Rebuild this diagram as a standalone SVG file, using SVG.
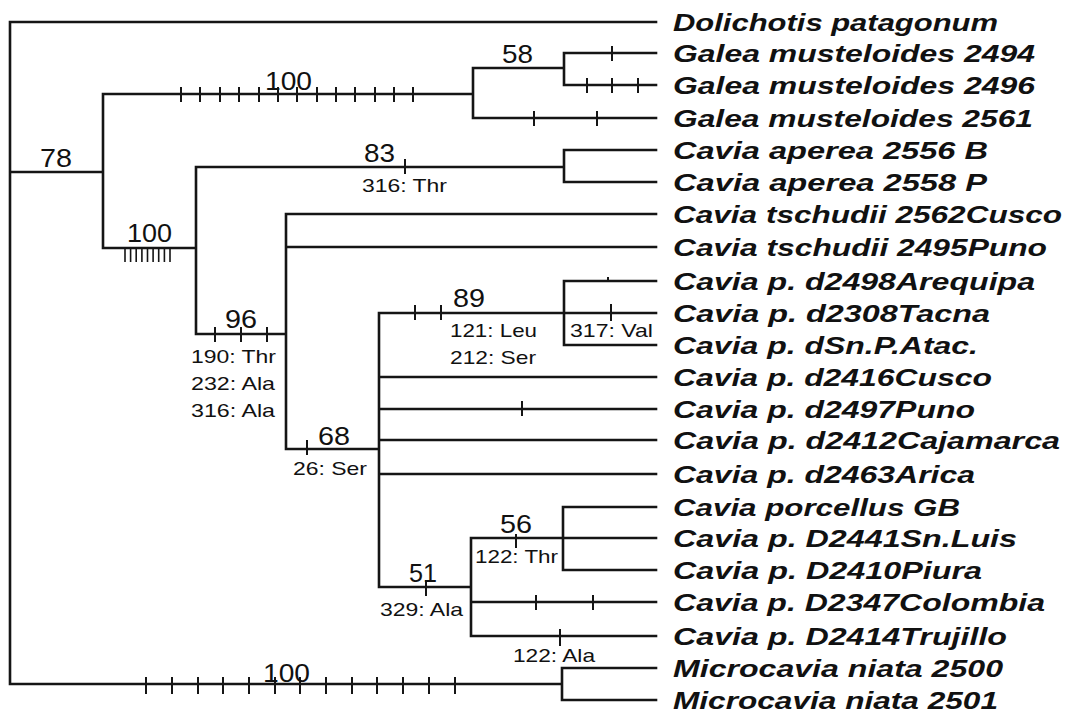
<svg xmlns="http://www.w3.org/2000/svg" width="1071" height="712" viewBox="0 0 1071 712">
<defs>
<style>
.br{fill:none;stroke:#151515;stroke-width:2.6;stroke-linecap:square}
.tk{fill:none;stroke:#151515;stroke-width:2}
.tk2{fill:none;stroke:#151515;stroke-width:1.6}
.lf{font-family:"Liberation Sans",Arial,sans-serif;font-weight:bold;font-style:italic;font-size:23px;fill:#111}
.bs{font-family:"Liberation Sans",Arial,sans-serif;font-size:25px;fill:#111}
.sb{font-family:"Liberation Sans",Arial,sans-serif;font-size:19px;fill:#111}
</style>
</defs>
<rect width="1071" height="712" fill="#fff"/>
<g id="connectors">
<path class="br" d="M10,22 V684 M10,22 H656 M10,172 H103 M103,94 V248 M103,94 H473 M473,68 V118 M473,68 H564 M564,53 V85 M564,53 H656 M564,85 H656 M473,118 H656 M103,248 H196 M196,167 V334 M196,167 H564 M564,150 V182 M564,150 H656 M564,182 H656 M196,334 H286 M286,214 V449 M286,214 H656 M286,247 H656 M286,449 H379 M379,313 V587 M379,313 H564 M564,281 V345 M564,281 H656 M564,313 H656 M564,345 H656 M379,377 H656 M379,409 H656 M379,440 H656 M379,474 H656 M379,587 H471 M471,538 V636 M471,538 H563 M563,507 V570 M563,507 H656 M563,538 H656 M563,570 H656 M471,602 H656 M471,636 H656 M10,684 H562 M562,668 V700 M562,668 H656 M562,700 H656"/>
<path class="tk" d="M181,87 V102 M200,87 V102 M220,87 V102 M239,87 V102 M259,87 V102 M278,87 V102 M297,87 V102 M317,87 V102 M336,87 V102 M355,87 V102 M375,87 V102 M394,87 V102 M413,87 V102"/>
<path class="tk" d="M612,46 V61 M587,78 V93 M612,78 V93 M638,78 V93 M534,111 V126 M597,111 V126"/>
<path class="tk2" d="M125,248 V262 M130.6,248 V262 M136.2,248 V262 M141.9,248 V262 M147.5,248 V262 M153.1,248 V262 M158.7,248 V262 M164.4,248 V262 M170,248 V262"/>
<path class="tk" d="M405,159 V174 M215,327 V342 M241,327 V342 M267,327 V342 M307,440 V455 M415,305 V320 M441,305 V320 M608,277 V281 M611,304 V321 M522,401 V416 M426,580 V596 M516,534 V548 M536,595 V610 M593,595 V610 M560,629 V646"/>
<path class="tk" d="M146,677 V694 M172,677 V694 M198,677 V694 M223,677 V694 M249,677 V694 M275,677 V694 M300,677 V694 M326,677 V694 M352,677 V694 M377,677 V694 M403,677 V694 M429,677 V694 M455,677 V694"/>
</g>
<g id="support-labels">
<text class="bs" x="40" y="167" textLength="32" lengthAdjust="spacingAndGlyphs">78</text>
<text class="bs" x="265" y="90" textLength="47" lengthAdjust="spacingAndGlyphs">100</text>
<text class="bs" x="502" y="63" textLength="31" lengthAdjust="spacingAndGlyphs">58</text>
<text class="bs" x="364" y="162" textLength="31" lengthAdjust="spacingAndGlyphs">83</text>
<text class="bs" x="127" y="242" textLength="45" lengthAdjust="spacingAndGlyphs">100</text>
<text class="bs" x="225" y="328" textLength="32" lengthAdjust="spacingAndGlyphs">96</text>
<text class="bs" x="453" y="307" textLength="32" lengthAdjust="spacingAndGlyphs">89</text>
<text class="bs" x="318" y="445" textLength="32" lengthAdjust="spacingAndGlyphs">68</text>
<text class="bs" x="500" y="533" textLength="32" lengthAdjust="spacingAndGlyphs">56</text>
<text class="bs" x="409" y="582" textLength="28" lengthAdjust="spacingAndGlyphs">51</text>
<text class="bs" x="263" y="682" textLength="47" lengthAdjust="spacingAndGlyphs">100</text>
</g>
<g id="substitution-labels">
<text class="sb" x="362" y="192" textLength="85" lengthAdjust="spacingAndGlyphs">316: Thr</text>
<text class="sb" x="191" y="363" textLength="85" lengthAdjust="spacingAndGlyphs">190: Thr</text>
<text class="sb" x="191" y="390" textLength="84" lengthAdjust="spacingAndGlyphs">232: Ala</text>
<text class="sb" x="191" y="417" textLength="84" lengthAdjust="spacingAndGlyphs">316: Ala</text>
<text class="sb" x="450" y="337" textLength="87" lengthAdjust="spacingAndGlyphs">121: Leu</text>
<text class="sb" x="450" y="364" textLength="86" lengthAdjust="spacingAndGlyphs">212: Ser</text>
<text class="sb" x="570" y="337" textLength="83" lengthAdjust="spacingAndGlyphs">317: Val</text>
<text class="sb" x="293" y="475" textLength="74" lengthAdjust="spacingAndGlyphs">26: Ser</text>
<text class="sb" x="380" y="616" textLength="83" lengthAdjust="spacingAndGlyphs">329: Ala</text>
<text class="sb" x="475" y="563" textLength="83" lengthAdjust="spacingAndGlyphs">122: Thr</text>
<text class="sb" x="513" y="662" textLength="82" lengthAdjust="spacingAndGlyphs">122: Ala</text>
</g>
<g id="taxa">
<text id="t-dolichotis" class="lf" x="673" y="31" textLength="325" lengthAdjust="spacingAndGlyphs">Dolichotis patagonum</text>
<text id="t-galea2494" class="lf" x="673" y="62" textLength="362" lengthAdjust="spacingAndGlyphs">Galea musteloides 2494</text>
<text id="t-galea2496" class="lf" x="673" y="94" textLength="362" lengthAdjust="spacingAndGlyphs">Galea musteloides 2496</text>
<text id="t-galea2561" class="lf" x="673" y="127" textLength="360" lengthAdjust="spacingAndGlyphs">Galea musteloides 2561</text>
<text id="t-aperea2556" class="lf" x="673" y="159" textLength="315" lengthAdjust="spacingAndGlyphs">Cavia aperea 2556 B</text>
<text id="t-aperea2558" class="lf" x="673" y="191" textLength="314" lengthAdjust="spacingAndGlyphs">Cavia aperea 2558 P</text>
<text id="t-tschudii2562" class="lf" x="673" y="223" textLength="389" lengthAdjust="spacingAndGlyphs">Cavia tschudii 2562Cusco</text>
<text id="t-tschudii2495" class="lf" x="673" y="256" textLength="374" lengthAdjust="spacingAndGlyphs">Cavia tschudii 2495Puno</text>
<text id="t-d2498" class="lf" x="673" y="290" textLength="362" lengthAdjust="spacingAndGlyphs">Cavia p. d2498Arequipa</text>
<text id="t-d2308" class="lf" x="673" y="322" textLength="317" lengthAdjust="spacingAndGlyphs">Cavia p. d2308Tacna</text>
<text id="t-dsn" class="lf" x="673" y="354" textLength="305" lengthAdjust="spacingAndGlyphs">Cavia p. dSn.P.Atac.</text>
<text id="t-d2416" class="lf" x="673" y="386" textLength="319" lengthAdjust="spacingAndGlyphs">Cavia p. d2416Cusco</text>
<text id="t-d2497" class="lf" x="673" y="418" textLength="302" lengthAdjust="spacingAndGlyphs">Cavia p. d2497Puno</text>
<text id="t-d2412" class="lf" x="673" y="449" textLength="387" lengthAdjust="spacingAndGlyphs">Cavia p. d2412Cajamarca</text>
<text id="t-d2463" class="lf" x="673" y="483" textLength="302" lengthAdjust="spacingAndGlyphs">Cavia p. d2463Arica</text>
<text id="t-porcellus" class="lf" x="673" y="516" textLength="287" lengthAdjust="spacingAndGlyphs">Cavia porcellus GB</text>
<text id="t-D2441" class="lf" x="673" y="547" textLength="344" lengthAdjust="spacingAndGlyphs">Cavia p. D2441Sn.Luis</text>
<text id="t-D2410" class="lf" x="673" y="579" textLength="309" lengthAdjust="spacingAndGlyphs">Cavia p. D2410Piura</text>
<text id="t-D2347" class="lf" x="673" y="611" textLength="372" lengthAdjust="spacingAndGlyphs">Cavia p. D2347Colombia</text>
<text id="t-D2414" class="lf" x="673" y="645" textLength="334" lengthAdjust="spacingAndGlyphs">Cavia p. D2414Trujillo</text>
<text id="t-m2500" class="lf" x="673" y="677" textLength="330" lengthAdjust="spacingAndGlyphs">Microcavia niata 2500</text>
<text id="t-m2501" class="lf" x="673" y="709" textLength="325" lengthAdjust="spacingAndGlyphs">Microcavia niata 2501</text>
</g>
</svg>
